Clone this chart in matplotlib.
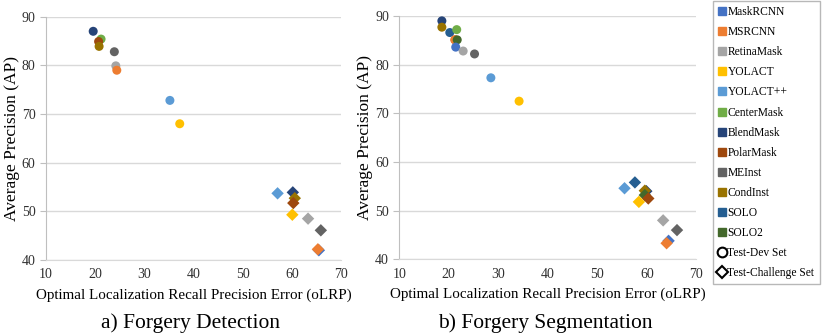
import matplotlib
matplotlib.use("Agg")
import matplotlib.pyplot as plt
from matplotlib.lines import Line2D

plt.rcParams['font.family'] = ['Liberation Serif', 'DejaVu Serif']

models = ["MaskRCNN", "MSRCNN", "RetinaMask", "YOLACT", "YOLACT++", "CenterMask",
          "BlendMask", "PolarMask", "MEInst", "CondInst", "SOLO", "SOLO2"]
colors = ["#4472C4", "#ED7D31", "#A5A5A5", "#FFC000", "#5B9BD5", "#70AD47",
          "#264478", "#9E480E", "#636363", "#997300", "#255E91", "#43682B"]

# Forgery Detection: (model, oLRP, AP)
det_dev_model = ["BlendMask", "CenterMask", "PolarMask", "CondInst", "MEInst",
                 "RetinaMask", "MSRCNN", "YOLACT++", "YOLACT"]
det_dev_olrp = [19.6, 21.2, 20.7, 20.8, 23.9, 24.2, 24.4, 35.2, 37.2]
det_dev_ap = [87.0, 85.4, 84.9, 83.9, 82.8, 79.9, 79.0, 72.8, 68.0]

det_ch_model = ["MaskRCNN", "MSRCNN", "YOLACT++", "BlendMask", "CondInst", "PolarMask",
                "YOLACT", "RetinaMask", "MEInst"]
det_ch_olrp = [65.5, 65.3, 57.1, 60.2, 60.6, 60.3, 60.1, 63.3, 65.9]
det_ch_ap = [42.0, 42.2, 53.7, 53.9, 52.7, 51.7, 49.3, 48.5, 46.1]

# Forgery Segmentation
seg_dev_model = ["BlendMask", "CondInst", "SOLO", "CenterMask", "PolarMask", "MSRCNN",
                 "SOLO2", "MaskRCNN", "RetinaMask", "MEInst", "YOLACT++", "YOLACT"]
seg_dev_olrp = [18.6, 18.6, 20.2, 21.6, 21.3, 21.2, 21.7, 21.4, 22.9, 25.2, 28.5, 34.2]
seg_dev_ap = [89.0, 87.7, 86.6, 87.2, 85.1, 85.1, 85.1, 83.6, 82.8, 82.2, 77.3, 72.5]

seg_ch_model = ["YOLACT++", "SOLO", "BlendMask", "CondInst", "SOLO2", "PolarMask",
                "YOLACT", "RetinaMask", "MEInst", "MaskRCNN", "MSRCNN"]
seg_ch_olrp = [55.5, 57.6, 59.9, 59.6, 59.6, 60.3, 58.4, 63.3, 66.1, 64.4, 64.0]
seg_ch_ap = [54.6, 55.8, 54.0, 54.1, 53.2, 52.5, 51.8, 48.0, 46.0, 43.8, 43.3]

cmap = dict(zip(models, colors))

W, H = 830, 336
fig = plt.figure(figsize=(W / 100, H / 100), dpi=100)


def make_ax(x0, x1, ytop, ybot, ylab_x):
    ax = fig.add_axes([x0 / W, 1 - ybot / H, (x1 - x0) / W, (ybot - ytop) / H])
    ax.set_xlim(10, 70)
    ax.set_ylim(40, 90)
    ax.set_xticks(range(10, 71, 10))
    ax.set_yticks(range(40, 91, 10))
    for s in ["top", "right"]:
        ax.spines[s].set_visible(False)
    ax.spines["left"].set_color("#bfbfbf")
    ax.spines["bottom"].set_color("#d9d9d9")
    ax.grid(axis="y", color="#d9d9d9", lw=1)
    ax.set_axisbelow(True)
    ax.tick_params(axis="x", length=0, labelsize=10, pad=6, labelcolor="#303030")
    ax.tick_params(axis="y", length=4, color="#bfbfbf", labelsize=10, labelcolor="#303030")
    ax.set_xlabel("Optimal Localization Recall Precision Error (oLRP)", fontsize=10.8, labelpad=5)
    ax.set_ylabel("Average Precision (AP)", fontsize=12.5)
    ax.yaxis.set_label_coords((ylab_x - x0) / (x1 - x0), 0.5)
    return ax


ax1 = make_ax(46, 341, 16.7, 260, 20)
ax2 = make_ax(399.3, 696.3, 16, 259.3, 373)

for ax, dm, dx, dy, cm, cx, cy in [
    (ax1, det_dev_model, det_dev_olrp, det_dev_ap, det_ch_model, det_ch_olrp, det_ch_ap),
    (ax2, seg_dev_model, seg_dev_olrp, seg_dev_ap, seg_ch_model, seg_ch_olrp, seg_ch_ap),
]:
    for m, x, y in zip(dm, dx, dy):
        ax.scatter([x], [y], s=42, marker="o", color=cmap[m], edgecolors="none", zorder=3)
    for m, x, y in zip(cm, cx, cy):
        ax.scatter([x], [y], s=40, marker="D", color=cmap[m], edgecolors="none", zorder=3)

fig.text(190 / W, 1 - 323 / H, "a) Forgery Detection", ha="center", va="center", fontsize=15.5)
fig.text(545 / W, 1 - 323 / H, "b) Forgery Segmentation", ha="center", va="center", fontsize=15.5)

handles = [Line2D([], [], marker="s", ls="none", color=c, markersize=6) for c in colors]
handles += [Line2D([], [], marker="o", ls="none", markerfacecolor="white",
                   markeredgecolor="black", markeredgewidth=1.5, markersize=7),
            Line2D([], [], marker="D", ls="none", markerfacecolor="white",
                   markeredgecolor="black", markeredgewidth=1.5, markersize=6)]
labels = models + ["Test-Dev Set", "Test-Challenge Set"]
leg = fig.legend(handles, labels, loc="upper left", bbox_to_anchor=(713 / W, 1 - 1 / H),
                 fontsize=8.3, frameon=True, fancybox=False, handlelength=0.6,
                 handletextpad=0.2, labelspacing=0.70, borderpad=0.45, borderaxespad=0)
leg.get_frame().set_edgecolor("#a6a6a6")
leg.get_frame().set_linewidth(1)

fig.savefig("out.png", dpi=100)
